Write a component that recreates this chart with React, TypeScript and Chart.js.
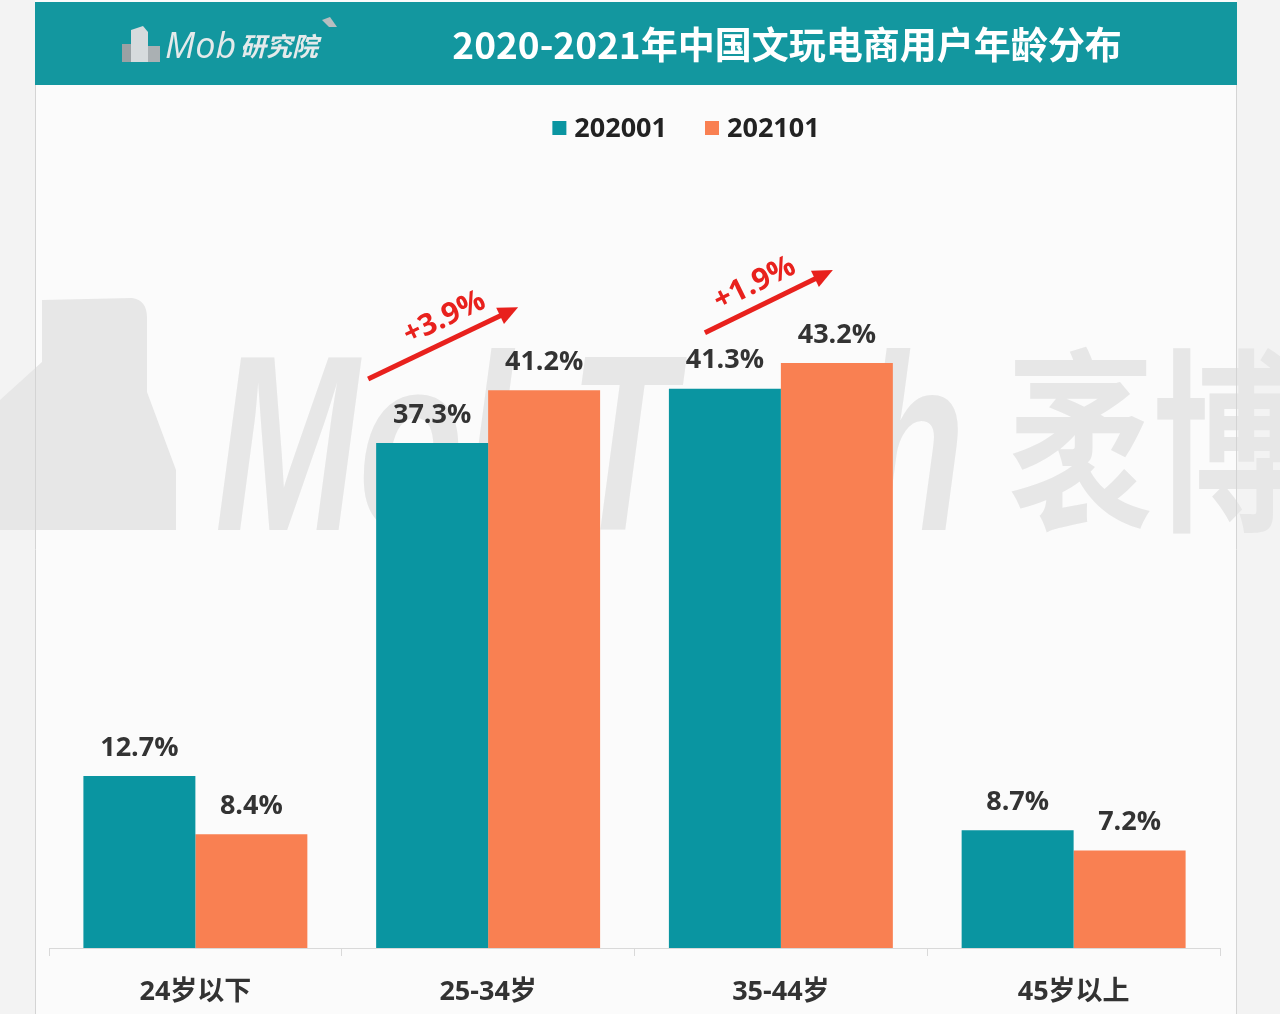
import React, { useEffect, useRef } from 'react';
import { Chart, registerables } from 'chart.js';

Chart.register(...registerables);

// ---------- data ----------
const TITLE = '2020-2021年中国文玩电商用户年龄分布';
const LOGO_LATIN = 'Mob';
const LOGO_CJK = '研究院';
const WATERMARK_LATIN = 'MobTech';
const WATERMARK_CJK = '袤博';
const categories = ['24岁以下', '25-34岁', '35-44岁', '45岁以上'];
const seriesNames = ['202001', '202101'];
const values202001 = [12.7, 37.3, 41.3, 8.7];
const values202101 = [8.4, 41.2, 43.2, 7.2];
const highlightedCategories = [1, 2];

// ---------- styles ----------
const TEAL = '#0a95a1';
const ORANGE = '#f98052';
const HEADER = '#13979f';
const RED = '#e8211d';
const LABEL_COLOR = '#333333';
const NUM_FONT = '"Open Sans", "Noto Sans CJK SC", sans-serif';
const CJK_FONT = '"Noto Sans CJK SC", "Open Sans", sans-serif';

// arrow placement relative to bar geometry (style only)
const arrowStyle = [
  { start: [-8, -64], end: [30, -83], labelShift: 12 },
  { start: [36, -56], end: [52, -93], labelShift: -5 },
];

const decorPlugin = {
  id: 'decor',
  beforeDraw(chart: any) {
    const { ctx, width, height } = chart;
    ctx.save();
    // backgrounds
    ctx.fillStyle = '#f3f3f3';
    ctx.fillRect(0, 0, width, height);
    ctx.fillStyle = '#fbfbfb';
    ctx.fillRect(35, 0, 1202, height);

    // watermark
    ctx.fillStyle = '#e7e7e7';
    ctx.beginPath();
    ctx.moveTo(0, 400);
    ctx.lineTo(42, 362);
    ctx.lineTo(42, 300);
    ctx.lineTo(132, 298);
    ctx.quadraticCurveTo(147, 300, 147, 318);
    ctx.lineTo(147, 392);
    ctx.lineTo(176, 470);
    ctx.lineTo(176, 530);
    ctx.lineTo(0, 530);
    ctx.closePath();
    ctx.fill();

    ctx.font = 'italic bold 250px "Liberation Sans", sans-serif';
    ctx.textBaseline = 'alphabetic';
    ctx.textAlign = 'left';
    const w = ctx.measureText(WATERMARK_LATIN).width;
    ctx.save();
    ctx.translate(215, 530);
    ctx.scale(750 / w, 1);
    ctx.fillText(WATERMARK_LATIN, 0, 0);
    ctx.restore();

    ctx.save();
    ctx.font = 'bold 196px "Noto Sans CJK SC", sans-serif';
    ctx.textBaseline = 'middle';
    ctx.translate(1008, 441);
    ctx.scale(0.74, 1);
    ctx.fillText(WATERMARK_CJK, 0, 0);
    ctx.restore();

    // header band
    ctx.fillStyle = HEADER;
    ctx.fillRect(35, 2, 1202, 83);

    // logo icon
    ctx.fillStyle = '#9aa1a4';
    ctx.fillRect(122, 44, 9, 18);
    ctx.fillStyle = '#d6dbdd';
    ctx.beginPath();
    ctx.moveTo(131, 30);
    ctx.lineTo(143, 26);
    ctx.lineTo(148, 32);
    ctx.lineTo(148, 62);
    ctx.lineTo(131, 62);
    ctx.closePath();
    ctx.fill();
    ctx.fillStyle = '#aab0b3';
    ctx.fillRect(148, 46, 12, 16);
    ctx.fillStyle = '#b8bec0';
    ctx.beginPath();
    ctx.moveTo(322, 20);
    ctx.lineTo(330, 17);
    ctx.lineTo(337, 27);
    ctx.lineTo(329, 27);
    ctx.closePath();
    ctx.fill();

    ctx.fillStyle = '#e4eaeb';
    ctx.textBaseline = 'alphabetic';
    ctx.font = 'italic 36px "Open Sans", sans-serif';
    ctx.fillText(LOGO_LATIN, 165, 58);
    ctx.font = 'italic bold 26px "Noto Sans CJK SC", sans-serif';
    ctx.fillText(LOGO_CJK, 240, 56);

    // title
    ctx.fillStyle = '#ffffff';
    ctx.font = 'bold 37px ' + CJK_FONT;
    ctx.textAlign = 'center';
    ctx.textBaseline = 'middle';
    ctx.fillText(TITLE, 787, 45);
    ctx.restore();
  },
  afterDatasetsDraw(chart: any) {
    const { ctx } = chart;
    const m0 = chart.getDatasetMeta(0);
    const m1 = chart.getDatasetMeta(1);
    ctx.save();
    // value labels
    ctx.font = 'bold 27px ' + NUM_FONT;
    ctx.fillStyle = LABEL_COLOR;
    ctx.textAlign = 'center';
    ctx.textBaseline = 'middle';
    chart.data.datasets.forEach((ds: any, di: number) => {
      const meta = chart.getDatasetMeta(di);
      meta.data.forEach((bar: any, i: number) => {
        ctx.fillText(ds.data[i].toFixed(1) + '%', bar.x, bar.y - 28);
      });
    });

    // growth arrows
    highlightedCategories.forEach((ci, k) => {
      const st = arrowStyle[k];
      const b0 = m0.data[ci];
      const b1 = m1.data[ci];
      const x0 = b0.x - b0.width / 2 + st.start[0];
      const y0 = b0.y + st.start[1];
      const x1 = b1.x - b1.width / 2 + st.end[0];
      const y1 = b1.y + st.end[1];
      const dx = x1 - x0;
      const dy = y1 - y0;
      const len = Math.hypot(dx, dy);
      const ux = dx / len;
      const uy = dy / len;
      const nx = uy;
      const ny = -ux;
      const head = 20;
      const hw = 9;
      ctx.strokeStyle = RED;
      ctx.fillStyle = RED;
      ctx.lineWidth = 5;
      ctx.lineCap = 'butt';
      ctx.beginPath();
      ctx.moveTo(x0, y0);
      ctx.lineTo(x1 - ux * (head - 2), y1 - uy * (head - 2));
      ctx.stroke();
      ctx.beginPath();
      ctx.moveTo(x1, y1);
      ctx.lineTo(x1 - ux * head + nx * hw, y1 - uy * head + ny * hw);
      ctx.lineTo(x1 - ux * head - nx * hw, y1 - uy * head - ny * hw);
      ctx.closePath();
      ctx.fill();

      const diff = chart.data.datasets[1].data[ci] - chart.data.datasets[0].data[ci];
      const text = (diff >= 0 ? '+' : '') + diff.toFixed(1) + '%';
      const mx = (x0 + x1) / 2 + nx * 22 + ux * st.labelShift;
      const my = (y0 + y1) / 2 + ny * 22 + uy * st.labelShift;
      ctx.save();
      ctx.translate(mx, my);
      ctx.rotate(Math.atan2(dy, dx));
      ctx.font = 'bold 30px ' + NUM_FONT;
      ctx.textAlign = 'center';
      ctx.textBaseline = 'middle';
      ctx.fillText(text, 0, 0);
      ctx.restore();
    });
    ctx.restore();
  },
  afterDraw(chart: any) {
    const { ctx, height } = chart;
    ctx.save();
    // panel borders
    ctx.strokeStyle = '#d4d4d4';
    ctx.lineWidth = 1;
    ctx.beginPath();
    ctx.moveTo(35.5, 85);
    ctx.lineTo(35.5, height);
    ctx.moveTo(1236.5, 85);
    ctx.lineTo(1236.5, height);
    ctx.stroke();

    // legend
    ctx.font = 'bold 27px ' + NUM_FONT;
    ctx.textBaseline = 'middle';
    ctx.textAlign = 'left';
    const box = 14;
    const gap = 8;
    const itemGap = 38;
    const items = chart.data.datasets.map((ds: any) => ({
      label: ds.label,
      color: ds.backgroundColor,
      w: ctx.measureText(ds.label).width,
    }));
    const total = items.reduce((s: number, it: any) => s + box + gap + it.w, 0) + itemGap * (items.length - 1);
    let x = 686 - total / 2;
    const y = 128;
    items.forEach((it: any) => {
      ctx.fillStyle = it.color;
      ctx.fillRect(x, y - box / 2, box, box);
      x += box + gap;
      ctx.fillStyle = '#222222';
      ctx.fillText(it.label, x, y + 1);
      x += it.w + itemGap;
    });
    ctx.restore();
  },
};

export default function App() {
  const ref = useRef<HTMLCanvasElement>(null);
  useEffect(() => {
    const chart = new Chart(ref.current as HTMLCanvasElement, {
      type: 'bar',
      data: {
        labels: categories,
        datasets: [
          {
            label: seriesNames[0],
            data: values202001,
            backgroundColor: TEAL,
            barPercentage: 1,
            categoryPercentage: 0.765,
          },
          {
            label: seriesNames[1],
            data: values202101,
            backgroundColor: ORANGE,
            barPercentage: 1,
            categoryPercentage: 0.765,
          },
        ],
      },
      options: {
        responsive: false,
        devicePixelRatio: 1,
        animation: false,
        events: [],
        layout: { padding: { left: 49, right: 60, top: 271, bottom: 0 } },
        plugins: {
          legend: { display: false },
          tooltip: { enabled: false },
          title: { display: false },
        },
        scales: {
          x: {
            afterFit: (scale: any) => {
              scale.height = 66;
            },
            grid: {
              drawOnChartArea: false,
              drawTicks: true,
              tickLength: 8,
              color: '#d9d9d9',
              offset: true,
            },
            border: { display: true, color: '#d9d9d9' },
            ticks: {
              color: LABEL_COLOR,
              padding: 20,
              font: { family: NUM_FONT, size: 27, weight: 'bold' },
            },
          },
          y: {
            display: false,
            min: 0,
            max: 50,
          },
        },
      },
      plugins: [decorPlugin],
    } as any);
    return () => chart.destroy();
  }, []);
  return (
    <div style={{ position: 'absolute', left: 0, top: 0, width: 1280, height: 1014 }}>
      <canvas ref={ref} width={1280} height={1014} style={{ display: 'block', width: 1280, height: 1014 }} />
    </div>
  );
}
